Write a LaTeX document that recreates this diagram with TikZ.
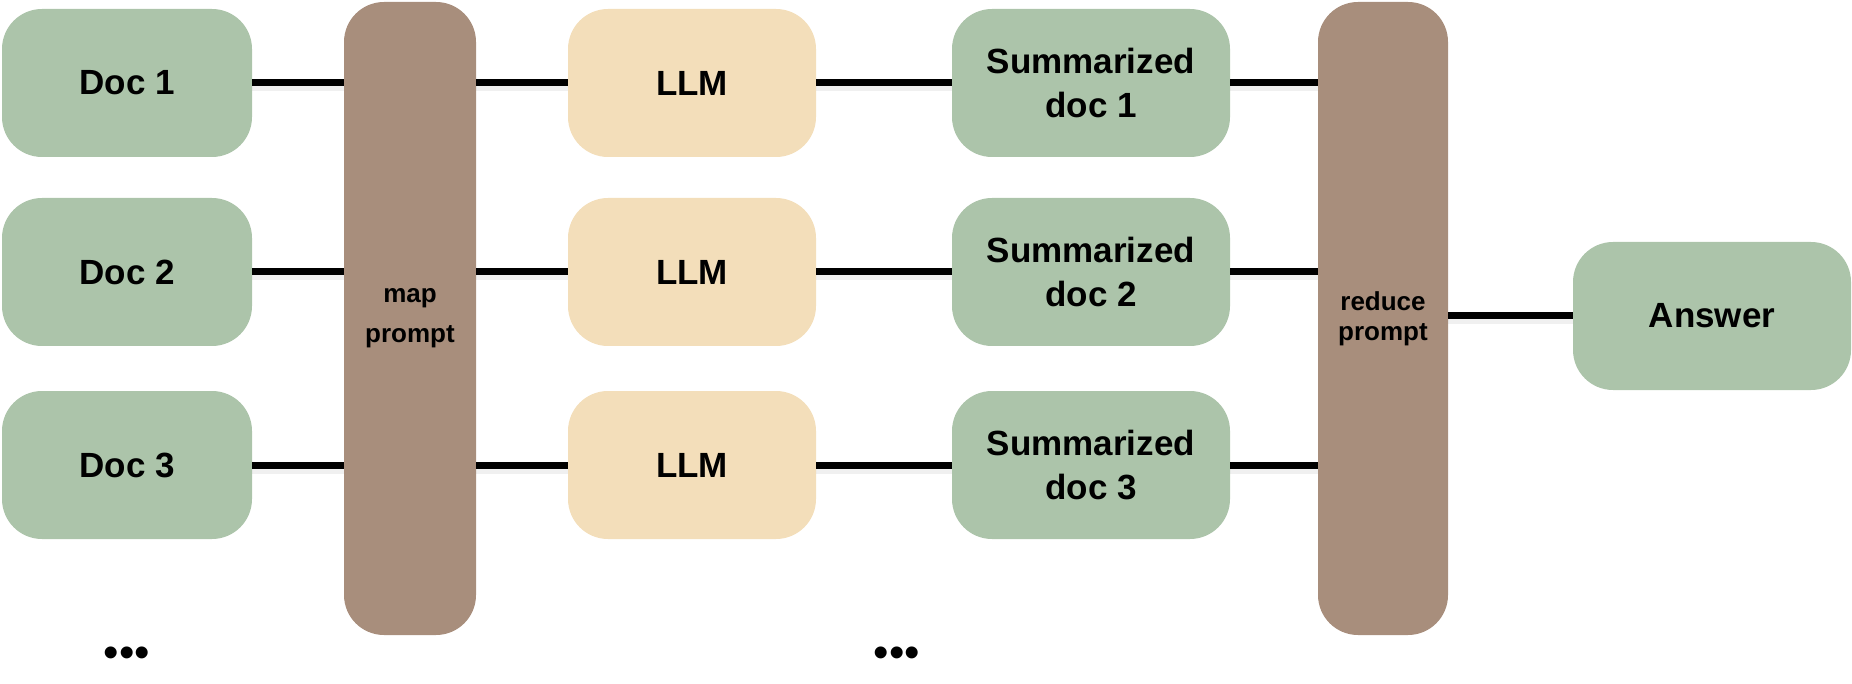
\documentclass[tikz,border=0pt]{standalone}
\usepackage{fontspec}
\setmainfont{Liberation Sans}
\usetikzlibrary{calc}
\definecolor{docgreen}{RGB}{172,196,170}
\definecolor{llmbeige}{RGB}{243,222,186}
\definecolor{barbrown}{RGB}{168,142,124}
\begin{document}
\begin{tikzpicture}[x=1pt,y=-1pt,
  box/.style={rounded corners=40pt, inner sep=0pt, minimum height=148pt, align=center,
    font=\bfseries\fontsize{35}{44}\selectfont},
  docbox/.style={box, fill=docgreen, minimum width=250pt},
  sumbox/.style={box, fill=docgreen, minimum width=278pt},
  llmbox/.style={box, fill=llmbeige, minimum width=248pt},
  bar/.style={rounded corners=40pt, inner sep=0pt, fill=barbrown, minimum height=633pt,
    align=center},
  wire/.style={line width=7pt, black},
  wireshadow/.style={line width=9pt, black, opacity=0.06, transform canvas={yshift=-4pt}},
  dots/.style={font=\fontsize{44}{44}\selectfont, inner sep=0pt}
]
\useasboundingbox (0,0) rectangle (1852,684);

% columns
\node[docbox] (d1) at (127,83) {Doc 1};
\node[docbox] (d2) at (127,272) {Doc 2};
\node[docbox] (d3) at (127,465) {Doc 3};

\node[bar, minimum width=132pt, font=\bfseries\fontsize{26}{40}\selectfont] (mp) at (410,318.5) {map\\prompt};

\node[llmbox] (l1) at (692,83) {LLM};
\node[llmbox] (l2) at (692,272) {LLM};
\node[llmbox] (l3) at (692,465) {LLM};

\node[sumbox] (s1) at (1091,83) {Summarized\\doc 1};
\node[sumbox] (s2) at (1091,272) {Summarized\\doc 2};
\node[sumbox] (s3) at (1091,465) {Summarized\\doc 3};

\node[bar, minimum width=130pt, font=\bfseries\fontsize{26}{30}\selectfont] (rp) at (1383,318.5) {reduce\\prompt};

\node[sumbox] (ans) at (1712,316) {Answer};

\node[dots] (dotsa) at (127,657) {•••};
\node[dots] (dotsb) at (897,657) {•••};

% shadows
\foreach \r in {1,2,3}{
  \draw[wireshadow] (d\r.east) -- (d\r.east -| mp.west);
  \draw[wireshadow] (l\r.west -| mp.east) -- (l\r.west);
  \draw[wireshadow] (l\r.east) -- (s\r.west);
  \draw[wireshadow] (s\r.east) -- (s\r.east -| rp.west);
}
\draw[wireshadow] (ans.west -| rp.east) -- (ans.west);

% wires
\foreach \r in {1,2,3}{
  \draw[wire] (d\r.east) -- (d\r.east -| mp.west);
  \draw[wire] (l\r.west -| mp.east) -- (l\r.west);
  \draw[wire] (l\r.east) -- (s\r.west);
  \draw[wire] (s\r.east) -- (s\r.east -| rp.west);
}
\draw[wire] (ans.west -| rp.east) -- (ans.west);
\end{tikzpicture}
\end{document}
